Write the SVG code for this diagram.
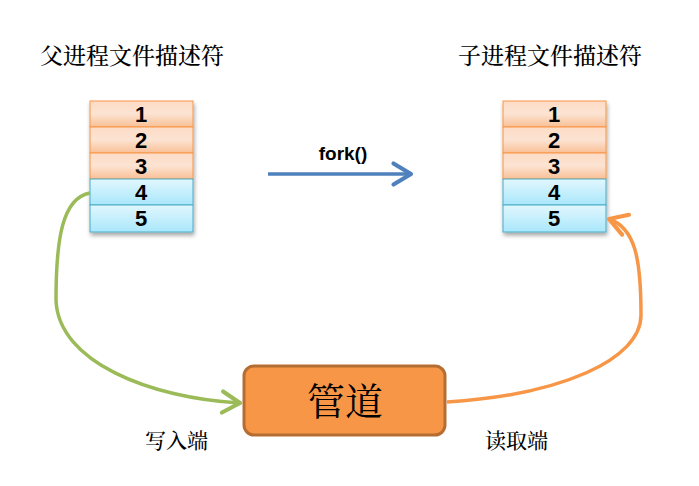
<svg xmlns="http://www.w3.org/2000/svg" width="699" height="486" viewBox="0 0 699 486">
<defs>
<linearGradient id="gO" x1="0" y1="0" x2="0" y2="1">
<stop offset="0" stop-color="#FDDCC6"/>
<stop offset="0.5" stop-color="#FCE3D2"/>
<stop offset="1" stop-color="#F9BF95"/>
</linearGradient>
<linearGradient id="gB" x1="0" y1="0" x2="0" y2="1">
<stop offset="0" stop-color="#E2F7FE"/>
<stop offset="1" stop-color="#A9E7FB"/>
</linearGradient>
<filter id="sh" x="-20%" y="-20%" width="140%" height="140%">
<feGaussianBlur in="SourceAlpha" stdDeviation="2"/>
<feOffset dx="1" dy="3"/>
<feComponentTransfer><feFuncA type="linear" slope="0.35"/></feComponentTransfer>
<feMerge><feMergeNode/><feMergeNode in="SourceGraphic"/></feMerge>
</filter>
<marker id="aBlue" markerWidth="8" markerHeight="8" refX="6" refY="4" orient="auto" markerUnits="strokeWidth">
<path d="M1,1 L6,4 L1,7" fill="none" stroke="#4F81BD" stroke-width="1.2" stroke-linecap="round" stroke-linejoin="round"/>
</marker>
<marker id="aGreen" markerWidth="8" markerHeight="8" refX="6" refY="4" orient="auto" markerUnits="strokeWidth">
<path d="M1,1 L6,4 L1,7" fill="none" stroke="#9BBB59" stroke-width="1.2" stroke-linecap="round" stroke-linejoin="round"/>
</marker>
<marker id="aOrange" markerWidth="8" markerHeight="8" refX="6" refY="4" orient="auto" markerUnits="strokeWidth">
<path d="M1,1 L6,4 L1,7" fill="none" stroke="#F79646" stroke-width="1.2" stroke-linecap="round" stroke-linejoin="round"/>
</marker>
</defs>
<style>
.title{font-family:"Noto Serif CJK SC","Noto Sans CJK SC",serif;font-size:23px;font-weight:500;fill:#000}
.lbl{font-family:"Noto Serif CJK SC","Noto Sans CJK SC",serif;font-size:21px;font-weight:500;fill:#000}
.num{font-family:"Liberation Sans",Arial,sans-serif;font-weight:bold;font-size:22px;fill:#000;text-anchor:middle}
.ro{fill:url(#gO);stroke:#F79646;stroke-width:1}
.rb{fill:url(#gB);stroke:#4BACC6;stroke-width:1}
.fork{font-family:"Liberation Sans",Arial,sans-serif;font-weight:bold;font-size:19px;fill:#000;text-anchor:middle}
</style>
<rect width="699" height="486" fill="#fff"/>

<g id="parent-title"><text class="title" x="40" y="64">父进程文件描述符</text></g>
<g id="child-title"><text class="title" x="458" y="64">子进程文件描述符</text></g>

<g id="parent-fd" filter="url(#sh)">
<rect class="ro" x="90" y="101" width="103" height="26"/>
<rect class="ro" x="90" y="127" width="103" height="26"/>
<rect class="ro" x="90" y="153" width="103" height="26"/>
<rect class="rb" x="90" y="179" width="103" height="26"/>
<rect class="rb" x="90" y="205" width="103" height="27"/>
</g>
<g id="parent-fd-text">
<text class="num" x="141" y="122">1</text>
<text class="num" x="141" y="148">2</text>
<text class="num" x="141" y="174">3</text>
<text class="num" x="141" y="200">4</text>
<text class="num" x="141" y="226">5</text>
</g>

<g id="child-fd" filter="url(#sh)">
<rect class="ro" x="503" y="101" width="103" height="26"/>
<rect class="ro" x="503" y="127" width="103" height="26"/>
<rect class="ro" x="503" y="153" width="103" height="26"/>
<rect class="rb" x="503" y="179" width="103" height="26"/>
<rect class="rb" x="503" y="205" width="103" height="27"/>
</g>
<g id="child-fd-text">
<text class="num" x="554" y="122">1</text>
<text class="num" x="554" y="148">2</text>
<text class="num" x="554" y="174">3</text>
<text class="num" x="554" y="200">4</text>
<text class="num" x="554" y="226">5</text>
</g>

<g id="pipe">
<rect x="244" y="366" width="201" height="69" rx="10" fill="#F79646" stroke="#B66D31" stroke-width="3"/>
<text x="345" y="415" text-anchor="middle" font-family="Noto Serif CJK SC,Noto Sans CJK SC,serif" font-size="38" fill="#000">管道</text>
</g>

<g id="connectors">
<path d="M268,174 L411,174" fill="none" stroke="#4F81BD" stroke-width="3.5" marker-end="url(#aBlue)"/>
<path d="M90,193 C62,198 56,240 56,300 C58,362 150,398 240,403" fill="none" stroke="#9BBB59" stroke-width="3.5" marker-end="url(#aGreen)"/>
<path d="M447,402 C560,395 641,360 641,315 C641,258 635,228 609,219" fill="none" stroke="#F79646" stroke-width="3.5" marker-end="url(#aOrange)"/>
</g>

<g id="labels">
<text class="fork" x="343" y="160">fork()</text>
<text class="lbl" x="145" y="448">写入端</text>
<text class="lbl" x="485" y="448">读取端</text>
</g>
</svg>
